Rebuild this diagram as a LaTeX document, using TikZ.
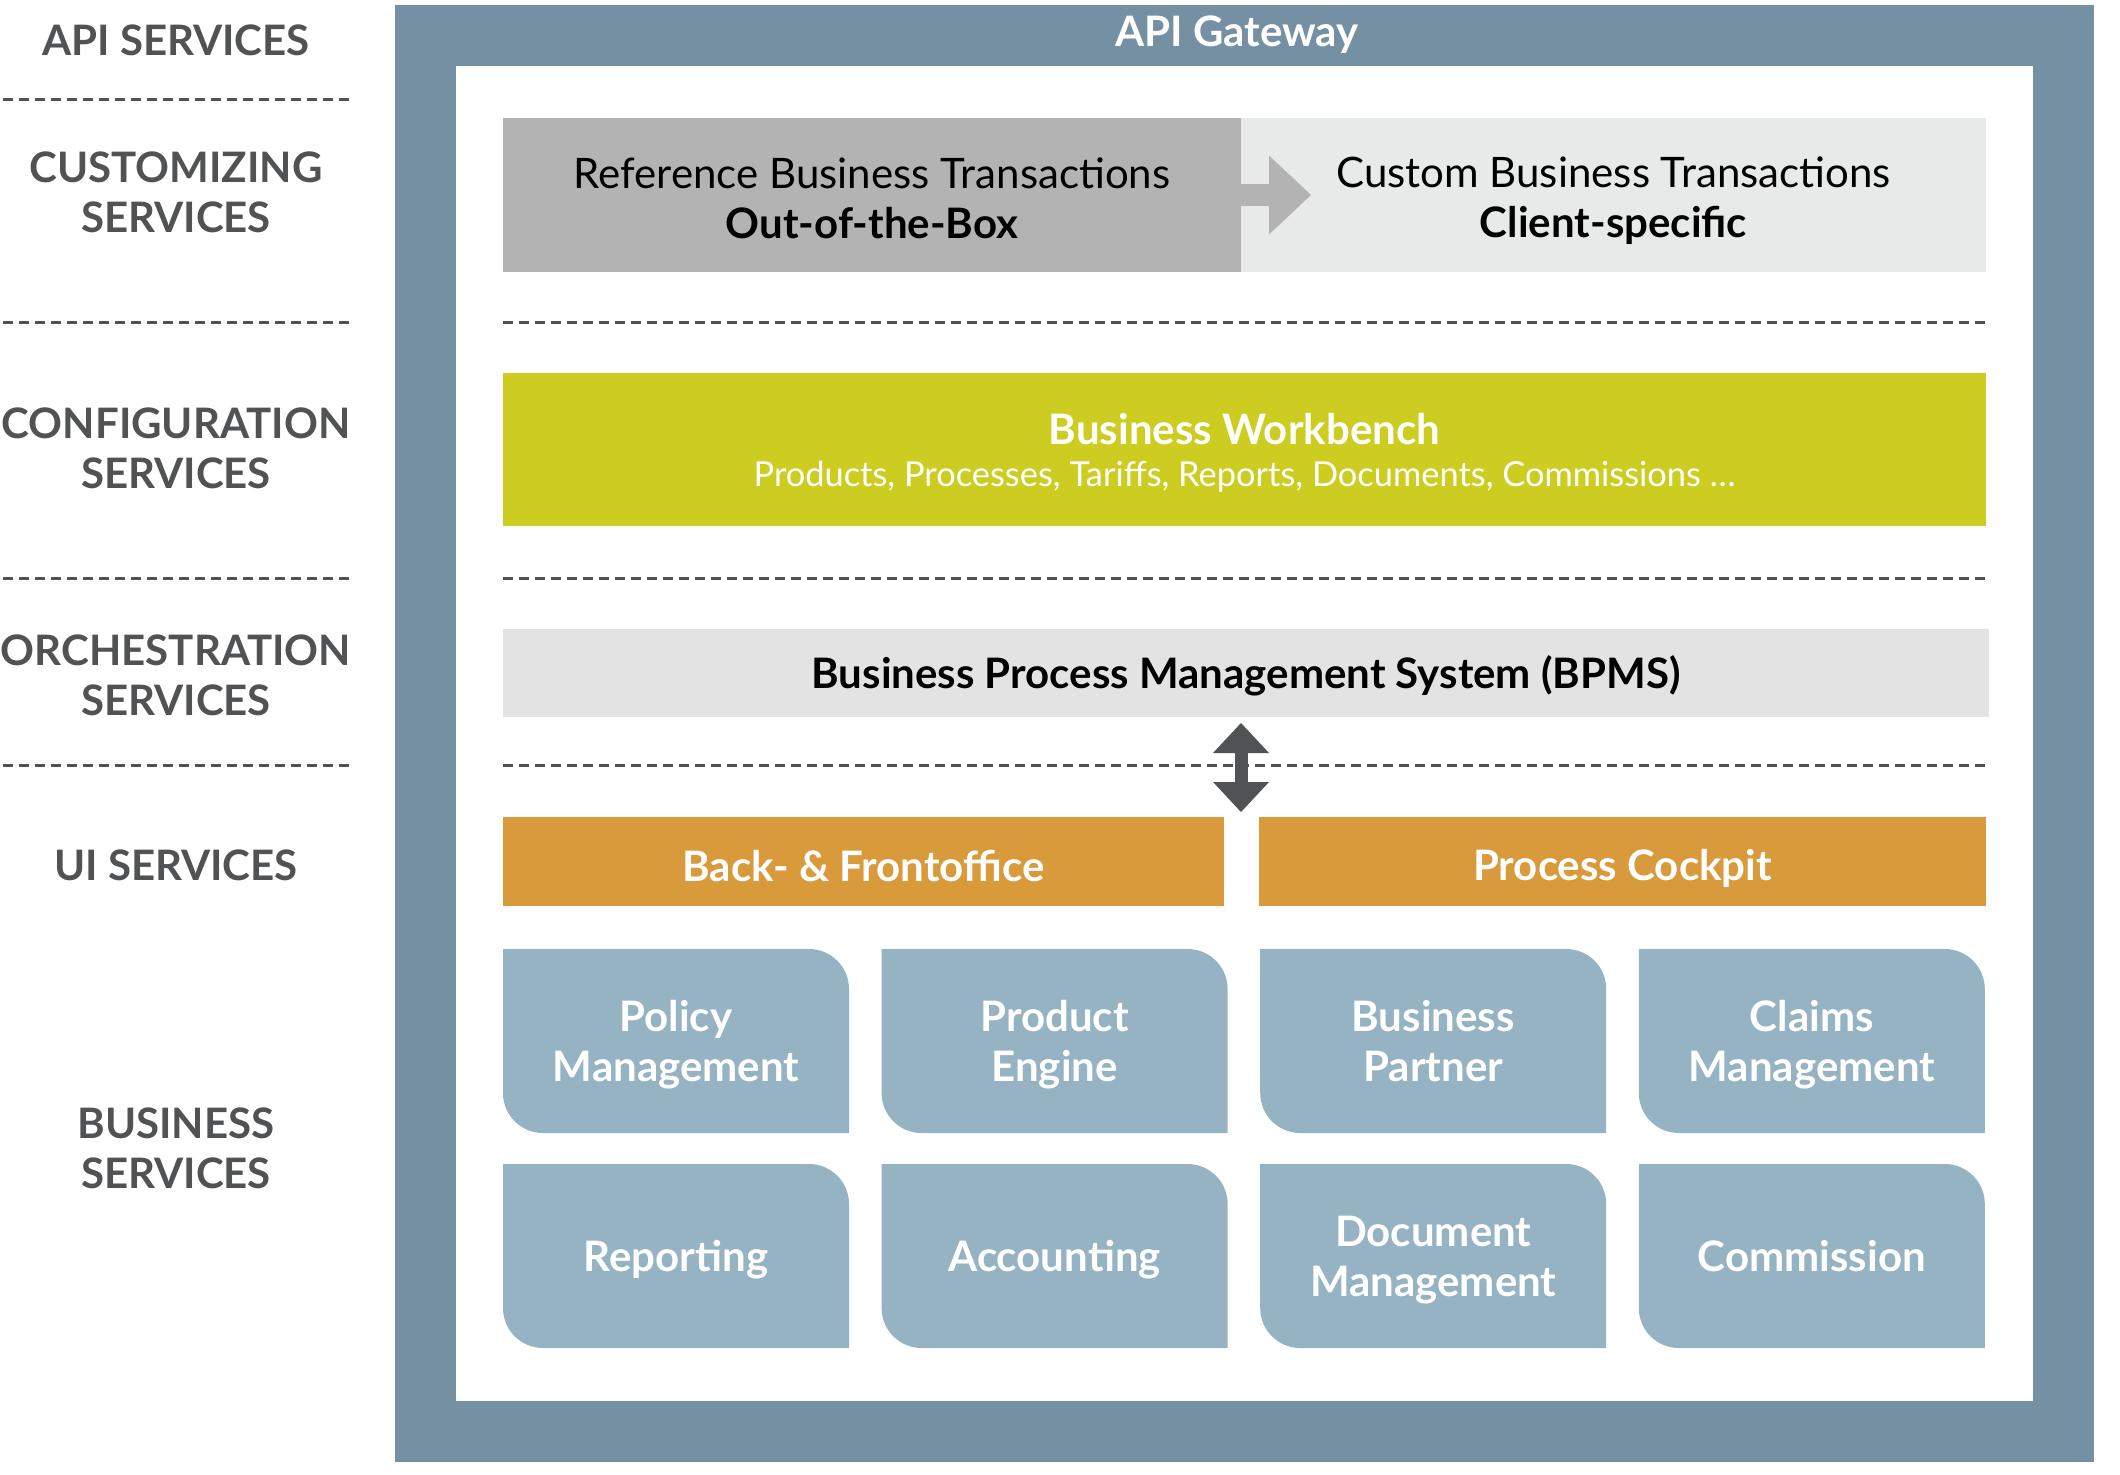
\documentclass[tikz,border=0pt]{standalone}
\usepackage{fontspec}
\setmainfont{Lato}
\usetikzlibrary{positioning, arrows.meta}

\definecolor{framegray}{HTML}{7590A2}
\definecolor{textgray}{HTML}{505254}
\definecolor{refgray}{HTML}{B3B3B3}
\definecolor{customgray}{HTML}{E8E9E9}
\definecolor{bpmsgray}{HTML}{E3E3E3}
\definecolor{workgreen}{HTML}{CDCD21}
\definecolor{uiorange}{HTML}{D99A3B}
\definecolor{bizblue}{HTML}{96B3C4}

% fixed line height, so that capitals sit in the middle
\newcommand{\capstrut}[1][5pt]{\rule[-#1]{0pt}{25pt}}

\begin{document}
\begin{tikzpicture}[x=0.5pt, y=-0.5pt, font=\fontsize{21}{25}\selectfont,
    every node/.style={inner sep=0pt, outer sep=0pt, align=center},
    layer/.style={text=textgray, font=\fontsize{21}{25}\selectfont\bfseries},
    sep/.style={textgray, line width=1.5pt, dash pattern=on 5pt off 3pt},
    bar/.style={minimum height=44.5pt, fill=uiorange, text=white, font=\fontsize{21}{25}\selectfont\bfseries},
    bizbox/.style={minimum width=173pt, minimum height=92pt, text=white,
      font=\fontsize{21}{25}\selectfont\bfseries,
      path picture={\fill[bizblue] (path picture bounding box.north west)
        -- ([xshift=-20pt]path picture bounding box.north east)
        arc[start angle=90, end angle=0, radius=20pt]
        -- (path picture bounding box.south east)
        -- ([xshift=20pt]path picture bounding box.south west)
        arc[start angle=270, end angle=180, radius=20pt] -- cycle;}},
    flow/.style={refgray, line width=11pt, -{Triangle[width=39.5pt, length=21pt, line width=0pt]}},
    updown/.style={textgray, line width=6.5pt,
      {Triangle[width=28pt, length=15pt, line width=0pt]}-{Triangle[width=28pt, length=15pt, line width=0pt]}}]
  \useasboundingbox (0,0) rectangle (2120,1474);

  % gateway frame
  \node[fill=framegray, minimum width=849.5pt, minimum height=728.5pt] (gateway) at (1244.5,733.5) {};
  \node[fill=white, minimum width=788.5pt, minimum height=667.5pt] (inner) at (1244.5,733.5) {};
  \node[text=white, font=\fontsize{21}{25}\selectfont\bfseries] (gwlabel) at (1237,31) {\capstrut API Gateway};

  % layer names
  \node[layer] (api) at (176,40) {\capstrut API SERVICES};
  \node[layer] (cust) at (176,192) {\capstrut CUSTOMIZING\\\capstrut SERVICES};
  \node[layer] (conf) at (176,448) {\capstrut CONFIGURATION\\\capstrut SERVICES};
  \node[layer] (orch) at (176,675) {\capstrut ORCHESTRATION\\\capstrut SERVICES};
  \node[layer] (ui) at (176,865) {\capstrut UI SERVICES};
  \node[layer] (biz) at (176,1148.5) {\capstrut BUSINESS\\\capstrut SERVICES};

  \draw[sep] (3,99) -- (350,99);
  \foreach \y in {322,578,765} {
    \draw[sep] (3,\y) -- (350,\y);
    \draw[sep] (503,\y) -- (1986,\y);
  }

  % customizing
  \node[fill=refgray, minimum width=369pt, minimum height=77pt] (refbox) at (872,195)
    {\capstrut[3.5pt]Reference Business Transactions\\\capstrut[3.5pt]\textbf{Out-of-the-Box}};
  \node[fill=customgray, minimum width=372.5pt, minimum height=77pt] (custombox) at (1613.5,195)
    {\capstrut[3.5pt]Custom Business Transactions\\\capstrut[3.5pt]\textbf{Client-specific}};
  \draw[flow] (refbox.east) -- ([xshift=35pt]custombox.west);

  % configuration
  \node[fill=workgreen, minimum width=741.5pt, minimum height=76.5pt, text=white] (workbench) at (1244.5,449.5)
    {\capstrut\textbf{Business Workbench}\\[-4pt]{\fontsize{17.2}{20}\selectfont\rule[-4.5pt]{0pt}{10pt}Products, Processes, Tariffs, Reports, Documents, Commissions \dots}};

  % orchestration
  \node[fill=bpmsgray, minimum width=743pt, minimum height=44pt, font=\fontsize{21}{25}\selectfont\bfseries] (bpms) at (1246,673)
    {\capstrut Business Process Management System (BPMS)};

  % ui
  \node[bar, minimum width=360.5pt] (backfront) at (863.5,861.5) {\capstrut[2.75pt]Back- \& Frontoffice};
  \node[bar, minimum width=363.5pt] (cockpit) at (1622.5,861.5) {\capstrut[2.75pt]Process Cockpit};
  \draw[updown] ([yshift=-3pt]bpms.south -| refbox.east) -- ([yshift=2.5pt]backfront.north -| refbox.east);

  % business services
  \node[bizbox] (policy) at (676,1041) {\capstrut Policy\\\capstrut Management};
  \node[bizbox, right=16.3pt of policy] (product) {\capstrut Product\\\capstrut Engine};
  \node[bizbox, right=16.3pt of product] (partner) {\capstrut Business\\\capstrut Partner};
  \node[bizbox, right=16.3pt of partner] (claims) {\capstrut Claims\\\capstrut Management};
  \node[bizbox, below=15.5pt of policy] (reporting) {\capstrut Reporting};
  \node[bizbox, right=16.3pt of reporting] (accounting) {\capstrut Accounting};
  \node[bizbox, right=16.3pt of accounting] (document) {\capstrut Document\\\capstrut Management};
  \node[bizbox, right=16.3pt of document] (commission) {\capstrut Commission};
\end{tikzpicture}
\end{document}
